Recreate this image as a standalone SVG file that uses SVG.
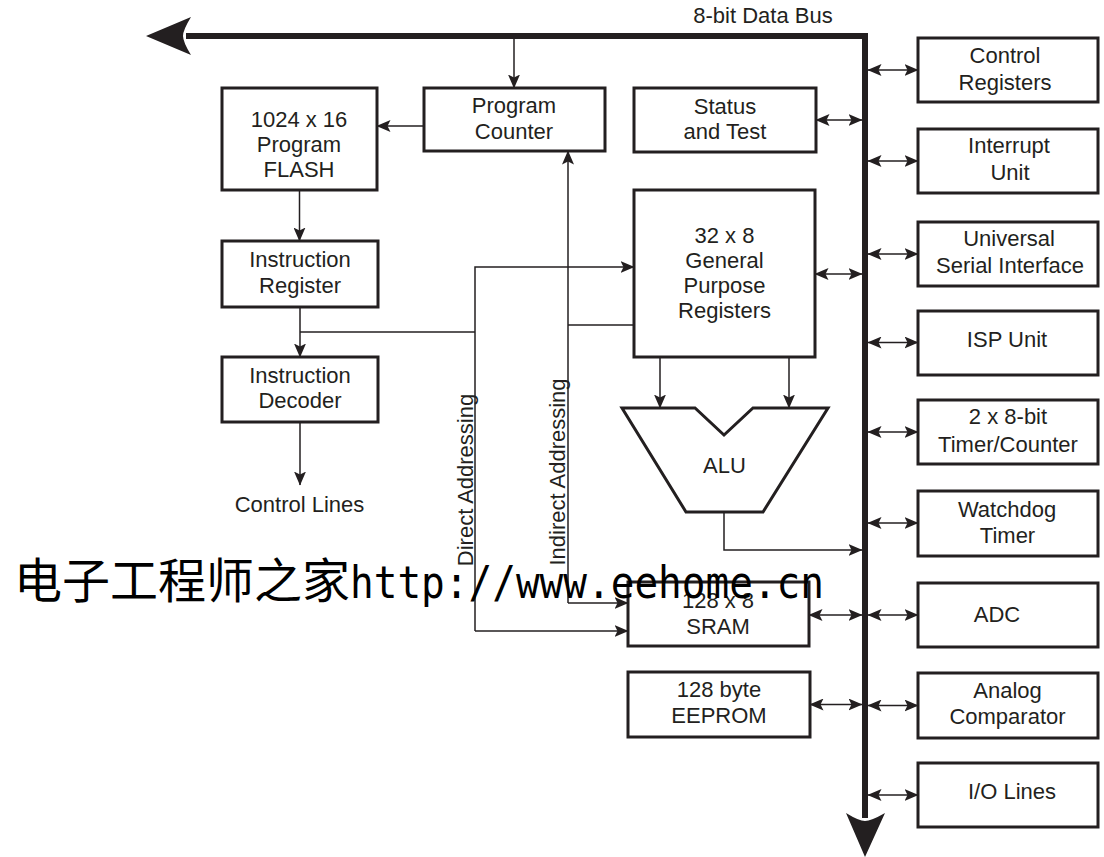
<svg xmlns="http://www.w3.org/2000/svg" width="1104" height="857" viewBox="0 0 1104 857">
<style>
.box{fill:#fff;stroke:#231f20;stroke-width:3}
.t{font-family:"Liberation Sans",Arial,sans-serif;font-size:22px;fill:#231f20;text-anchor:middle}
.ln{fill:none;stroke:#231f20;stroke-width:1.5}
.a{marker-end:url(#ah)}
.b{marker-start:url(#ah);marker-end:url(#ah)}
.bus{fill:none;stroke:#231f20;stroke-width:6;stroke-linejoin:miter}
</style>
<defs>
<marker id="ah" viewBox="0 0 14 12" refX="13.5" refY="6" markerWidth="14" markerHeight="12" markerUnits="userSpaceOnUse" orient="auto-start-reverse"><path d="M0,0 L14,6 L0,12 L3,6 Z" fill="#231f20"/></marker>
</defs>
<rect width="1104" height="857" fill="#fff"/>

<g id="connectors">
<path class="bus" d="M865,818 V36 H186"/>
<path d="M146,36 L191,17 Q183,30 183,36 Q183,42 191,55 Z" fill="#231f20"/>
<path d="M865,857 L846,813 Q859,821 865,821 Q871,821 885,813 Z" fill="#231f20"/>
<path class="ln a" d="M514,39 V88"/>
<path class="ln a" d="M424,126 H377"/>
<path class="ln a" d="M299.5,190 V241"/>
<path class="ln a" d="M300,307 V357"/>
<path class="ln" d="M300,332 H475"/>
<path class="ln a" d="M475,631 V267 H634"/>
<path class="ln a" d="M475,631 H628"/>
<path class="ln a" d="M568,603 V151"/>
<path class="ln a" d="M568,603 H628"/>
<path class="ln" d="M568,325 H634"/>
<path class="ln a" d="M300,422 V485"/>
<path class="ln a" d="M660,357 V408"/>
<path class="ln a" d="M789,357 V408"/>
<path class="ln a" d="M724,512 V550 H862"/>
<path class="ln b" d="M816,120 H862"/>
<path class="ln b" d="M815,274 H862"/>
<path class="ln b" d="M809,615 H862"/>
<path class="ln b" d="M810,704.5 H862"/>
<path class="ln b" d="M868,70 H918"/>
<path class="ln b" d="M868,161 H918"/>
<path class="ln b" d="M868,254 H918"/>
<path class="ln b" d="M868,342.5 H918"/>
<path class="ln b" d="M868,432 H918"/>
<path class="ln b" d="M868,523 H918"/>
<path class="ln b" d="M868,615 H918"/>
<path class="ln b" d="M868,705.5 H918"/>
<path class="ln b" d="M868,795 H918"/>
</g>

<text class="t" x="763" y="23">8-bit Data Bus</text>
<text class="t" x="299.5" y="512">Control Lines</text>
<text class="t" transform="translate(473,480) rotate(-90)">Direct Addressing</text>
<text class="t" transform="translate(565,472) rotate(-90)">Indirect Addressing</text>

<g id="flash"><rect class="box" x="222" y="88" width="155" height="102"/>
<text class="t" x="299" y="127">1024 x 16</text><text class="t" x="299" y="152">Program</text><text class="t" x="299" y="177">FLASH</text></g>
<g id="pc"><rect class="box" x="424" y="88" width="181" height="63"/>
<text class="t" x="514" y="113">Program</text><text class="t" x="514" y="139">Counter</text></g>
<g id="status"><rect class="box" x="634" y="88" width="182" height="64"/>
<text class="t" x="725" y="114">Status</text><text class="t" x="725" y="139">and Test</text></g>
<g id="ir"><rect class="box" x="222" y="241" width="156" height="66"/>
<text class="t" x="300" y="267">Instruction</text><text class="t" x="300" y="293">Register</text></g>
<g id="id"><rect class="box" x="222" y="357" width="156" height="65"/>
<text class="t" x="300" y="383">Instruction</text><text class="t" x="300" y="408">Decoder</text></g>
<g id="gpr"><rect class="box" x="634" y="190" width="181" height="167"/>
<text class="t" x="724.5" y="243">32 x 8</text><text class="t" x="724.5" y="268">General</text><text class="t" x="724.5" y="293">Purpose</text><text class="t" x="724.5" y="318">Registers</text></g>
<g id="alu"><polygon class="box" points="622,408 695,408 724,435 753,408 828,408 763,512 686,512"/>
<text class="t" x="724.5" y="473">ALU</text></g>
<g id="sram"><rect class="box" x="628" y="582" width="181" height="64"/>
<text class="t" x="718" y="608">128 x 8</text><text class="t" x="718" y="634">SRAM</text></g>
<g id="eeprom"><rect class="box" x="628" y="672" width="182" height="65"/>
<text class="t" x="719" y="697">128 byte</text><text class="t" x="719" y="723">EEPROM</text></g>

<g id="ctrlreg"><rect class="box" x="918" y="38" width="180" height="64"/>
<text class="t" x="1005" y="63">Control</text><text class="t" x="1005" y="90">Registers</text></g>
<g id="interrupt"><rect class="box" x="918" y="129" width="180" height="64"/>
<text class="t" x="1009" y="153">Interrupt</text><text class="t" x="1010" y="180">Unit</text></g>
<g id="usi"><rect class="box" x="918" y="222" width="180" height="64"/>
<text class="t" x="1009" y="246">Universal</text><text class="t" x="1010" y="272.5">Serial Interface</text></g>
<g id="isp"><rect class="box" x="918" y="311" width="180" height="64"/>
<text class="t" x="1007" y="347">ISP Unit</text></g>
<g id="timer"><rect class="box" x="918" y="400" width="180" height="64"/>
<text class="t" x="1008" y="424">2 x 8-bit</text><text class="t" x="1008" y="451.5">Timer/Counter</text></g>
<g id="watchdog"><rect class="box" x="918" y="491" width="180" height="65"/>
<text class="t" x="1007" y="517">Watchdog</text><text class="t" x="1007.5" y="542.5">Timer</text></g>
<g id="adc"><rect class="box" x="918" y="583" width="180" height="64"/>
<text class="t" x="997" y="622">ADC</text></g>
<g id="analog"><rect class="box" x="918" y="673" width="180" height="65"/>
<text class="t" x="1007.5" y="698">Analog</text><text class="t" x="1007.5" y="724">Comparator</text></g>
<g id="io"><rect class="box" x="918" y="763" width="180" height="64"/>
<text class="t" x="1012" y="799">I/O Lines</text></g>

<text x="14" y="598" fill="#000"><tspan font-family="'Noto Sans CJK SC',sans-serif" font-size="48">电子工程师之家</tspan><tspan font-family="'DejaVu Sans Mono',monospace" font-size="44" textLength="474" lengthAdjust="spacingAndGlyphs">http://www.eehome.cn</tspan></text>
</svg>
